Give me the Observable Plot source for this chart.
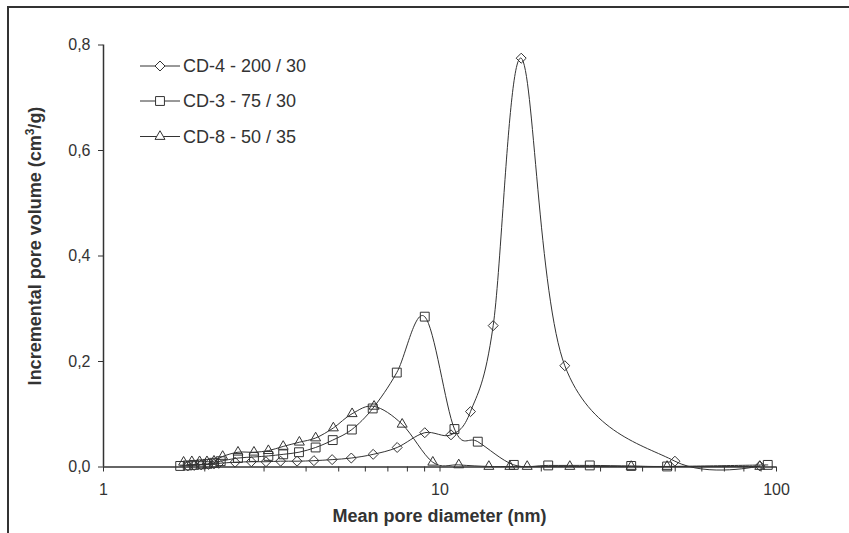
<!DOCTYPE html>
<html>
<head>
<meta charset="utf-8">
<script src="https://cdn.jsdelivr.net/npm/d3@7"></script>
<script src="https://cdn.jsdelivr.net/npm/@observablehq/plot@0.6"></script>
<style>
  html, body { margin: 0; padding: 0; background: #fff; }
  #chart { position: relative; width: 849px; height: 533px; overflow: hidden; }
</style>
</head>
<body>
<div id="chart"></div>
<script>
// ---- data ----
const seriesNames = ["CD-4 - 200 / 30", "CD-3 - 75 / 30", "CD-8 - 50 / 35"];

const cd4Diam = [1.78, 1.86, 1.95, 2.05, 2.13, 2.20, 2.46, 2.75, 3.04, 3.36, 3.76, 4.22, 4.78, 5.45, 6.33, 7.46, 9.01, 10.78, 12.32, 14.39, 17.43, 23.49, 49.9, 89.2];
const cd4Vol  = [0.002, 0.003, 0.004, 0.005, 0.006, 0.007, 0.009, 0.010, 0.010, 0.011, 0.011, 0.012, 0.014, 0.017, 0.024, 0.037, 0.065, 0.061, 0.105, 0.268, 0.775, 0.192, 0.011, 0.002];

const cd3Diam = [1.69, 1.78, 1.86, 1.95, 2.04, 2.13, 2.23, 2.51, 2.80, 3.09, 3.42, 3.81, 4.27, 4.80, 5.47, 6.31, 7.44, 9.01, 11.04, 12.95, 16.57, 20.97, 27.87, 37.0, 47.3, 94.2];
const cd3Vol  = [0.002, 0.003, 0.004, 0.005, 0.006, 0.008, 0.011, 0.017, 0.019, 0.021, 0.024, 0.028, 0.037, 0.051, 0.071, 0.111, 0.179, 0.285, 0.072, 0.048, 0.004, 0.003, 0.003, 0.002, 0.001, 0.004];

const cd8Diam = [1.73, 1.83, 1.93, 2.03, 2.13, 2.26, 2.51, 2.80, 3.09, 3.42, 3.82, 4.27, 4.82, 5.48, 6.37, 7.72, 9.52, 11.37, 13.97, 16.13, 18.16, 24.31, 37.0, 47.3, 89.2];
const cd8Vol  = [0.009, 0.010, 0.010, 0.010, 0.011, 0.020, 0.028, 0.028, 0.031, 0.039, 0.047, 0.055, 0.074, 0.101, 0.115, 0.081, 0.009, 0.004, 0.001, 0.001, 0.001, 0.001, 0.001, 0.001, 0.001];

const xTickValues = [1, 2, 3, 4, 5, 6, 7, 8, 9, 10, 20, 30, 40, 50, 60, 70, 80, 90, 100];
const xTickLabels = [1, 10, 100];
const yTickValues = [0, 0.2, 0.4, 0.6, 0.8];

const xTitle = "Mean pore diameter (nm)";
const yTitleMain = "Incremental pore volume (cm";
const yTitleSup = "3";
const yTitleEnd = "/g)";

// ---- build tables ----
const rows = (ds, vs) => ds.map((d, i) => ({d, v: vs[i]}));
const cd4 = rows(cd4Diam, cd4Vol);
const cd3 = rows(cd3Diam, cd3Vol);
const cd8 = rows(cd8Diam, cd8Vol);

const ink = "#333";
const font = "'Liberation Sans', Arial, sans-serif";
const curve = d3.curveCardinal.tension(0);
const symbols = ["diamond2", "square", "triangle"];
const radii = [4.5, 5.0, 3.7];

const series = [cd4, cd3, cd8];

const plot = Plot.plot({
  width: 849,
  height: 533,
  marginLeft: 103,
  marginRight: 73,
  marginTop: 44.5,
  marginBottom: 66.5,
  style: {fontFamily: font, color: ink, background: "transparent", overflow: "visible"},
  x: {type: "log", domain: [1, 100]},
  y: {domain: [0, 0.8]},
  marks: [
    Plot.axisX({ticks: xTickValues, tickSize: 5, tickPadding: 12, fontSize: 16, label: null,
      tickFormat: d => xTickLabels.includes(d) ? String(d) : "", stroke: ink, fill: ink}),
    Plot.axisY({ticks: yTickValues, tickSize: 5, tickPadding: 8, fontSize: 16, label: null,
      tickFormat: d => d.toFixed(1).replace(".", ","), stroke: ink, fill: ink}),
    ...series.map(s => Plot.line(s, {x: "d", y: "v", curve, stroke: ink, strokeWidth: 1})),
    ...series.map((s, i) => Plot.dot(s, {x: "d", y: "v", symbol: () => symbols[i], r: radii[i], stroke: ink, strokeWidth: 1, fill: "none"})),
    Plot.ruleY([0], {stroke: ink, strokeWidth: 1.5}),
    Plot.ruleX([1], {stroke: ink, strokeWidth: 1.5})
  ]
});

document.getElementById("chart").appendChild(plot);

// ---- decorations: frame, titles, legend ----
const svg = d3.select(plot);

svg.append("path")
  .attr("d", "M8,533V7H849")
  .attr("fill", "none").attr("stroke", ink).attr("stroke-width", 2);

svg.append("text")
  .attr("x", 439.5).attr("y", 522)
  .attr("text-anchor", "middle")
  .attr("font-family", font)
  .attr("font-weight", "bold").attr("font-size", 18).attr("fill", ink)
  .text(xTitle);

const yt = svg.append("text")
  .attr("transform", "translate(41,246) rotate(-90)")
  .attr("text-anchor", "middle")
  .attr("font-family", font)
  .attr("font-weight", "bold").attr("font-size", 18).attr("fill", ink);
yt.append("tspan").text(yTitleMain);
yt.append("tspan").attr("font-size", 12).attr("dy", -7).text(yTitleSup);
yt.append("tspan").attr("dy", 7).text(yTitleEnd);

const symbolTypes = [d3.symbolDiamond2, d3.symbolSquare, d3.symbolTriangle];
const legendRowY = [66, 101, 136.5];
seriesNames.forEach((name, i) => {
  const g = svg.append("g").attr("transform", `translate(0,${legendRowY[i]})`);
  g.append("line").attr("x1", 140).attr("x2", 180).attr("y1", 0).attr("y2", 0)
    .attr("stroke", ink).attr("stroke-width", 1);
  g.append("path")
    .attr("transform", "translate(160,0)")
    .attr("d", d3.symbol(symbolTypes[i], Math.PI * radii[i] * radii[i])())
    .attr("fill", "white").attr("stroke", ink).attr("stroke-width", 1);
  g.append("text").attr("x", 183).attr("y", 0).attr("dy", "0.35em")
    .attr("text-anchor", "start")
    .attr("font-family", font)
    .attr("font-size", 18).attr("fill", ink)
    .text(name);
});
</script>
</body>
</html>
